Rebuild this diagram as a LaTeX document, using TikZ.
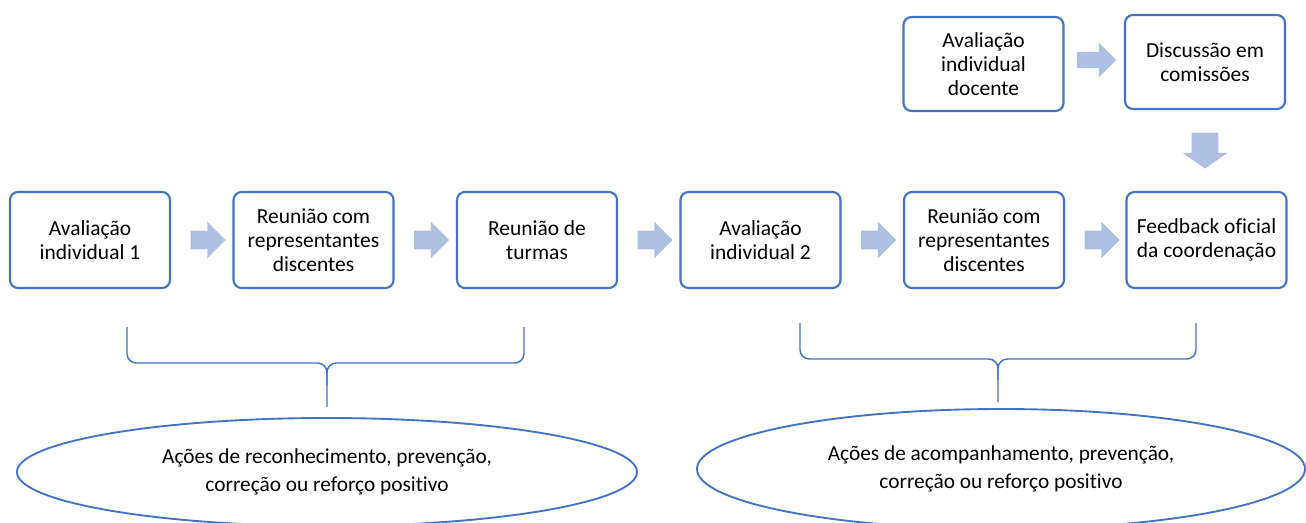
\documentclass[tikz,border=0pt]{standalone}
\usepackage{fontspec}
\setmainfont{Carlito}[Ligatures=NoCommon]
\usetikzlibrary{shapes.geometric,shapes.arrows}
\definecolor{boxblue}{HTML}{4472C4}
\definecolor{arrowblue}{HTML}{AFBFE3}
\begin{document}
\begin{tikzpicture}[x=0.75pt,y=-0.75pt,
  box/.style={draw=boxblue,line width=1.6pt,rounded corners=6pt,minimum width=120pt,minimum height=72pt,inner sep=2pt,align=center,font=\fontsize{16.1}{18}\selectfont},
  blockarrow/.style={single arrow,fill=arrowblue,draw=none,inner sep=6.75pt,minimum height=26.25pt,minimum width=27pt,single arrow head extend=6.75pt},
  brace/.style={draw=boxblue,line width=1.1pt,rounded corners=7pt},
  bubble/.style={ellipse,draw=boxblue,line width=1.4pt,inner sep=0pt,align=center,font=\fontsize{16}{21}\selectfont}]
	\useasboundingbox (0,0) rectangle (1306,522);
	\clip (0,0) rectangle (1306,522);
	% bottom row
	\node[box] (av1) at (90,240) {Avaliação\\individual 1};
	\node[blockarrow] (ar1) at (203.5,240) {};
	\node[box] (reun1) at (313.5,240) {Reunião com\\representantes\\discentes};
	\node[blockarrow] (ar2) at (427,240) {};
	\node[box] (turmas) at (537,240) {Reunião de\\turmas};
	\node[blockarrow] (ar3) at (650.5,240) {};
	\node[box] (av2) at (760.5,240) {Avaliação\\individual 2};
	\node[blockarrow] (ar4) at (874,240) {};
	\node[box] (reun2) at (984,240) {Reunião com\\representantes\\discentes};
	\node[blockarrow] (ar5) at (1097.5,240) {};
	\node[box] (feedback) at (1206.5,240) {Feedback oficial\\da coordenação};
	% top row
	\node[box,minimum height=70.5pt] (avdoc) at (983.5,64) {Avaliação\\individual\\docente};
	\node[blockarrow,minimum height=29.25pt,minimum width=26pt,inner sep=5.8pt] (ar6) at (1092.5,60) {};
	\node[box,minimum height=70.5pt] (disc) at (1205,62) {Discussão em\\comissões};
	\node[blockarrow,rotate=-90,minimum height=24pt,minimum width=33pt,inner sep=9.75pt,single arrow tip angle=110] (ar7) at (1205,146) {};
	% braces
	\draw[brace] (127,327) |- (327,363) -- (327,407);
	\draw[brace] (524,327) |- (327,363) -- (327,385);
	\draw[brace] (800,323) |- (998,359) -- (998,402);
	\draw[brace] (1196,323) |- (998,359) -- (998,380);
	% outcomes
	\node[bubble,minimum width=465pt,minimum height=81pt] (acoes1) at (327,472) {Ações de reconhecimento, prevenção,\\correção ou reforço positivo};
	\node[bubble,minimum width=456pt,minimum height=90pt] (acoes2) at (1001,469) {Ações de acompanhamento, prevenção,\\correção ou reforço positivo};
\end{tikzpicture}
\end{document}
